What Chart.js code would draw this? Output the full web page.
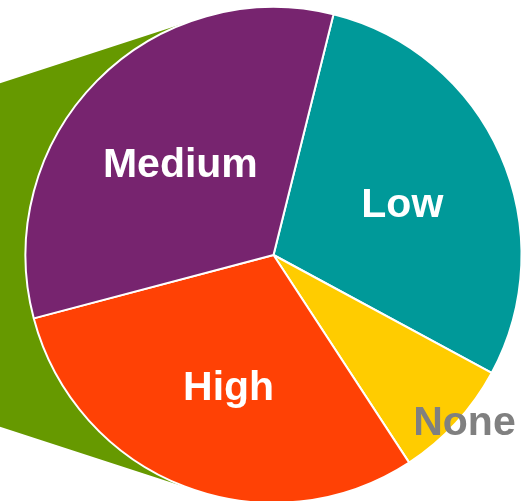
<!DOCTYPE html>
<html>
<head>
<meta charset="utf-8">
<script src="https://cdn.jsdelivr.net/npm/chart.js"></script>
<style>
    html, body { margin: 0; padding: 0; background: #ffffff; overflow: hidden; }
    #wrap { width: 525px; height: 504px; position: relative; }
</style>
</head>
<body>
<div id="wrap"><canvas id="pieChart"></canvas></div>
<script>
// data (share of the pie, %)
const categories = ['Low', 'None', 'High', 'Medium'];
const shares = [29.0, 7.9, 30.1, 33.0];
const sliceColors = ['#009999', '#ffcc00', '#ff4105', '#77246f'];
const labelColors = ['#ffffff', '#808080', '#ffffff', '#ffffff'];

// green cone behind the pie (connector towards a second pie off to the left)
const coneBehind = {
    id: 'coneBehind',
    beforeDatasetsDraw(chart, args, opts) {
        const arc = chart.getDatasetMeta(0).data[0];
        if (!arc) return;
        const { x, y, outerRadius } = arc.getProps(['x', 'y', 'outerRadius'], true);
        const d = outerRadius * opts.apexFactor;
        const beta = Math.acos(outerRadius / d);
        const ctx = chart.ctx;
        ctx.save();
        ctx.beginPath();
        ctx.moveTo(x - d, y);
        ctx.lineTo(x + outerRadius * Math.cos(Math.PI + beta), y + outerRadius * Math.sin(Math.PI + beta));
        ctx.arc(x, y, outerRadius, Math.PI + beta, Math.PI - beta, false);
        ctx.closePath();
        ctx.fillStyle = opts.color;
        ctx.fill();
        ctx.restore();
    }
};

// slice names drawn on / next to the slices
const sliceLabels = {
    id: 'sliceLabels',
    afterDatasetsDraw(chart, args, opts) {
        const ctx = chart.ctx;
        const meta = chart.getDatasetMeta(0);
        const total = shares.reduce((a, b) => a + b, 0);
        ctx.save();
        ctx.font = opts.font;
        ctx.textAlign = 'center';
        ctx.textBaseline = 'middle';
        meta.data.forEach((arc, i) => {
            const p = arc.getProps(['x', 'y', 'startAngle', 'endAngle', 'outerRadius'], true);
            const mid = (p.startAngle + p.endAngle) / 2;
            const small = shares[i] / total < 0.1;
            const k = small ? opts.outside : opts.inside;
            // inside labels sit a little right/low of the slice middle in the original
            const dx = small ? 3 : 4;
            const dy = small ? -4 : 6;
            ctx.fillStyle = labelColors[i];
            ctx.fillText(categories[i], p.x + Math.cos(mid) * p.outerRadius * k + dx, p.y + Math.sin(mid) * p.outerRadius * k + dy);
        });
        ctx.restore();
    }
};

new Chart(document.getElementById('pieChart'), {
    type: 'pie',
    data: {
        labels: categories,
        datasets: [{
            data: shares,
            backgroundColor: sliceColors,
            borderColor: '#ffffff',
            borderWidth: 2
        }]
    },
    options: {
        responsive: true,
        maintainAspectRatio: false,
        animation: false,
        rotation: 14,
        layout: { padding: { top: 6, bottom: 0, left: 24.5, right: 2.5 } },
        plugins: {
            legend: { display: false },
            tooltip: { enabled: false },
            coneBehind: { color: '#669900', apexFactor: 3.23 },
            sliceLabels: { font: 'bold 41px "Liberation Sans", Arial, sans-serif', inside: 0.55, outside: 1.03 }
        }
    },
    plugins: [coneBehind, sliceLabels]
});
</script>
</body>
</html>
